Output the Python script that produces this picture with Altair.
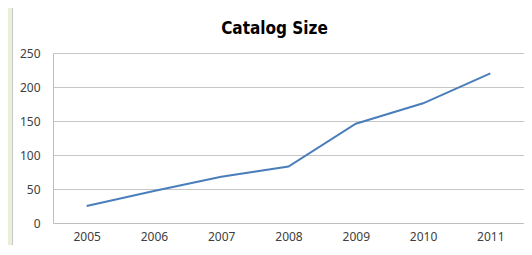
import altair as alt
import pandas as pd

years = ["2005", "2006", "2007", "2008", "2009", "2010", "2011"]
sizes = [25, 47, 68, 83, 146, 176, 220]
y_ticks = [0, 50, 100, 150, 200, 250]
title_text = "Catalog Size"

df = pd.DataFrame({"year": years, "size": sizes})

LABEL_FONT = "Noto Sans"
AXIS_GREY = "#bfbfbf"

x_enc = alt.X(
    "year:O",
    sort=years,
    scale=alt.Scale(type="point", padding=0.5),
    axis=alt.Axis(
        title=None, labelAngle=0, ticks=False, tickSize=0, domain=True,
        domainColor=AXIS_GREY, grid=False, labelFont=LABEL_FONT,
        labelFontSize=12, labelColor="#404040", labelPadding=8,
    ),
)
y_enc = alt.Y(
    "size:Q",
    scale=alt.Scale(domain=[0, 250], nice=False),
    axis=alt.Axis(
        title=None, values=y_ticks, ticks=False, tickSize=0, domain=True,
        domainColor=AXIS_GREY, grid=True, gridColor="#c6c6c6",
        labelFont=LABEL_FONT, labelFontSize=12, labelColor="#404040",
        labelPadding=13,
    ),
)

line = alt.Chart(df).mark_line(color="#4a7ebb", strokeWidth=2).encode(x=x_enc, y=y_enc)

# green strip and border of the white chart panel (Excel-like frame)
strip = alt.Chart(df).mark_rect(fill="#e8f0dc").encode(
    x=alt.value(-45), x2=alt.value(-41), y=alt.value(-45), y2=alt.value(200)
)
border = alt.Chart(df).mark_rule(color="#c8c8c8", strokeWidth=1).encode(
    x=alt.value(-40.5), y=alt.value(-45), y2=alt.value(200)
)

title = alt.Chart(pd.DataFrame({"t": [title_text]})).mark_text(
    font="DejaVu Sans Condensed, DejaVu Sans, sans-serif", fontWeight="bold",
    fontSize=17, color="#000000", align="center", baseline="alphabetic",
).encode(text="t:N", x=alt.value(221.5), y=alt.value(-19.5))

chart = (
    alt.layer(strip, border, line, title)
    .properties(
        width=471, height=170,
        autosize=alt.AutoSizeParams(type="none"),
        padding={"left": 45, "top": 45, "right": 0, "bottom": 22},
        background="white",
    )
    .configure_view(stroke=None)
)

chart.save("out.html", embed_options={"renderer": "svg", "actions": False})
